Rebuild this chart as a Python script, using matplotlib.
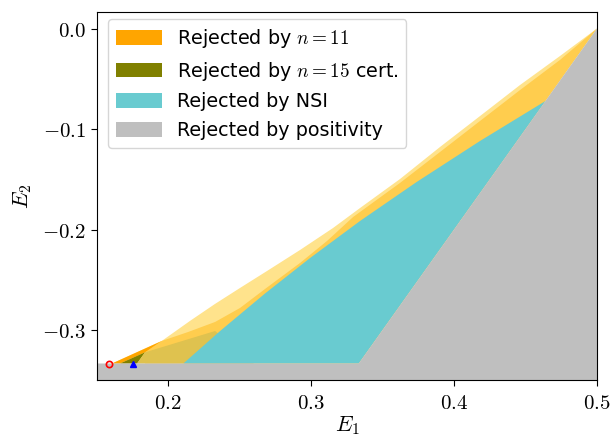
import matplotlib
matplotlib.use("Agg")
import matplotlib.pyplot as plt
from matplotlib.patches import Patch

plt.rcParams['mathtext.fontset'] = 'cm'
plt.rcParams['font.family'] = ['DejaVu Sans']

# ---- data (region boundaries in (E1, E2)) ----
positivity_E1 = [0.14, 0.14, 1/3, 0.5, 0.5]
positivity_E2 = [-0.40, -1/3, -1/3, 0.0, -0.40]

nsi_E1 = [0.2107, 0.2364, 0.2678, 0.2993, 0.3343, 0.3739, 0.4182, 0.4640, 1/3]
nsi_E2 = [-1/3, -0.3010, -0.2637, -0.2284, -0.1915, -0.1527, -0.1119, -0.0721, -1/3]

n11_outer_E1 = [0.1608, 0.1956, 0.2153, 0.2328, 0.2503, 0.2692, 0.2923, 0.3154,
                0.3343, 0.3622, 0.3902, 0.4182, 0.4462, 0.4741, 0.5, 1/3]
n11_outer_E2 = [-1/3, -0.3109, -0.2910, -0.2741, -0.2582, -0.2413, -0.2204, -0.1985,
                -0.1786, -0.1498, -0.1179, -0.0871, -0.0562, -0.0274, 0.0, -1/3]

n11_inner_E1 = [0.1839, 0.1956, 0.2140, 0.2329, 0.2503, 0.2678, 0.2923, 0.3112, 0.3294,
                0.3622, 0.3902, 0.4182, 0.4462, 0.4741, 0.5, 1/3, 0.1839]
n11_inner_E2 = [-0.3222, -0.3109, -0.3020, -0.2920, -0.2781, -0.2592, -0.2333, -0.2114,
                -0.1876, -0.1537, -0.1229, -0.0920, -0.0612, -0.0313, 0.0, -1/3, -1/3]

n11_only_E1 = [0.1608, 0.1956, 0.1839, 0.1664]
n11_only_E2 = [-1/3, -0.3109, -0.3222, -1/3]

n15_E1 = [0.1664, 0.1839, 0.1783]
n15_E2 = [-1/3, -0.3222, -1/3]

overlap_E1 = [0.1783, 0.1839, 0.2329, 0.2600]
overlap_E2 = [-1/3, -0.3222, -0.3010, -1/3]

point_n11 = (0.1584, -1/3)
point_n15 = (0.1758, -1/3)

xticks = [0.2, 0.3, 0.4, 0.5]
yticks = [0.0, -0.1, -0.2, -0.3]

legend_labels = [r"Rejected by $n=11$", r"Rejected by $n=15$ cert.",
                 "Rejected by NSI", "Rejected by positivity"]

# ---- colours ----
C_LIGHT = '#FFE38C'
C_GOLD = '#FFCD4E'
C_ORANGE = '#FFA500'
C_OLIVE = '#808000'
C_MUSTARD = '#DFC24F'
C_CYAN = '#69CBD0'
C_GRAY = '#BFBFBF'

fig = plt.figure(figsize=(6.13, 4.41), dpi=100)
ax = fig.add_axes([97/613, 1 - 380.25/441, 500/613, 368.5/441])

ax.fill(n11_outer_E1, n11_outer_E2, color=C_LIGHT, lw=0)
ax.fill(n11_inner_E1, n11_inner_E2, color=C_GOLD, lw=0)
ax.fill(n11_only_E1, n11_only_E2, color=C_ORANGE, lw=0)
ax.fill(n15_E1, n15_E2, color=C_OLIVE, lw=0)
ax.fill(overlap_E1, overlap_E2, color=C_MUSTARD, lw=0)
ax.fill(nsi_E1, nsi_E2, color=C_CYAN, lw=0)
ax.fill(positivity_E1, positivity_E2, color=C_GRAY, lw=0)

ax.plot([point_n11[0]], [point_n11[1]], 'o', mfc='none', mec='red', ms=4.5, mew=1.2, zorder=5)
ax.plot([point_n15[0]], [point_n15[1]], '^', color='blue', ms=5, zorder=5)

ax.set_xlim(0.1503, 0.5)
ax.set_ylim(-0.35, 0.01667)

ax.set_xticks(xticks)
ax.set_xticklabels([f"${t:.1f}$" for t in xticks], fontsize=15)
ax.set_yticks(yticks)
ax.set_yticklabels([f"${t:.1f}$" for t in yticks], fontsize=15)
ax.tick_params(direction='out', length=4.5, width=0.8)
ax.tick_params(axis='x', pad=4.5)

ax.set_xlabel(r"$E_1$", fontsize=16, labelpad=1)
ax.set_ylabel(r"$E_2$", fontsize=16, labelpad=6)

handles = [Patch(facecolor=C_ORANGE), Patch(facecolor=C_OLIVE),
           Patch(facecolor=C_CYAN), Patch(facecolor=C_GRAY)]
ax.legend(handles, legend_labels, loc='upper left', bbox_to_anchor=(0.022, 0.979),
          borderaxespad=0, fontsize=13.8,
          handlelength=2.4, handleheight=0.8,
          labelspacing=0.5, handletextpad=0.8, framealpha=0.8, edgecolor='#cccccc')

fig.savefig("out.png", dpi=100)
